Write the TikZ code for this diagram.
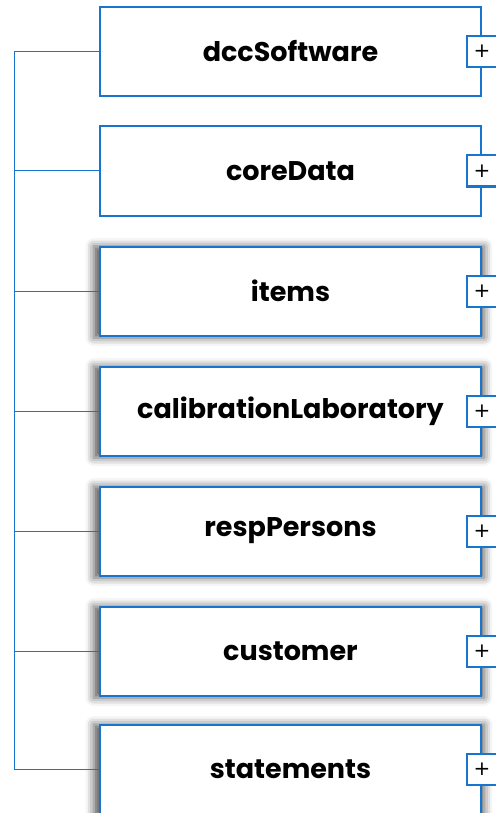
\documentclass[tikz,border=0pt]{standalone}
\usepackage{fontspec}
\setmainfont{Poppins}
\newfontfamily\plusfont{DejaVu Sans}
\usetikzlibrary{shadows.blur}
\definecolor{dccblue}{RGB}{24,116,205}
\tikzset{
  elem/.style={draw=dccblue, line width=2pt, fill=white, minimum width=381pt,
    minimum height=89pt, inner sep=0pt, anchor=west,
    font=\bfseries\fontsize{27}{30}\selectfont},
  shadowelem/.style={elem, blur shadow={shadow xshift=-1.5pt, shadow yshift=-1pt,
    shadow blur radius=8pt, shadow opacity=65, shadow scale=1.025}},
  plusbox/.style={draw=dccblue, line width=2pt, fill=white, minimum width=30pt,
    minimum height=31pt, inner sep=0pt, font=\plusfont\fontsize{20}{20}\selectfont},
  link/.style={draw=dccblue, line width=1pt}
}
\begin{document}
\begin{tikzpicture}[x=1pt,y=1pt]
\useasboundingbox (0,0) rectangle (495,-813);
\coordinate (trunk) at (14,0);

% child elements of the certificate root
\node[elem]       (e1) at (99,-51.5) {dccSoftware};
\node[elem]       (e2) at (99,-171)  {coreData};
\node[shadowelem] (e3) at (99,-291)  {items};
\node[shadowelem] (e4) at (99,-411)  {calibrationLaboratory};
\node[shadowelem] (e5) at (99,-531)  {respPersons};
\node[shadowelem] (e6) at (99,-651)  {customer};
\node[shadowelem] (e7) at (99,-769)  {statements};

% tree connectors
\draw[link] (e1.west -| trunk) -- (e7.west -| trunk);
\foreach \n in {e1,e2,e3,e4,e5,e6,e7}{
  \draw[link] (\n.west) -- (\n.west -| trunk);
  \node[plusbox] (p\n) at (\n.east) {+};
}
\end{tikzpicture}
\end{document}
